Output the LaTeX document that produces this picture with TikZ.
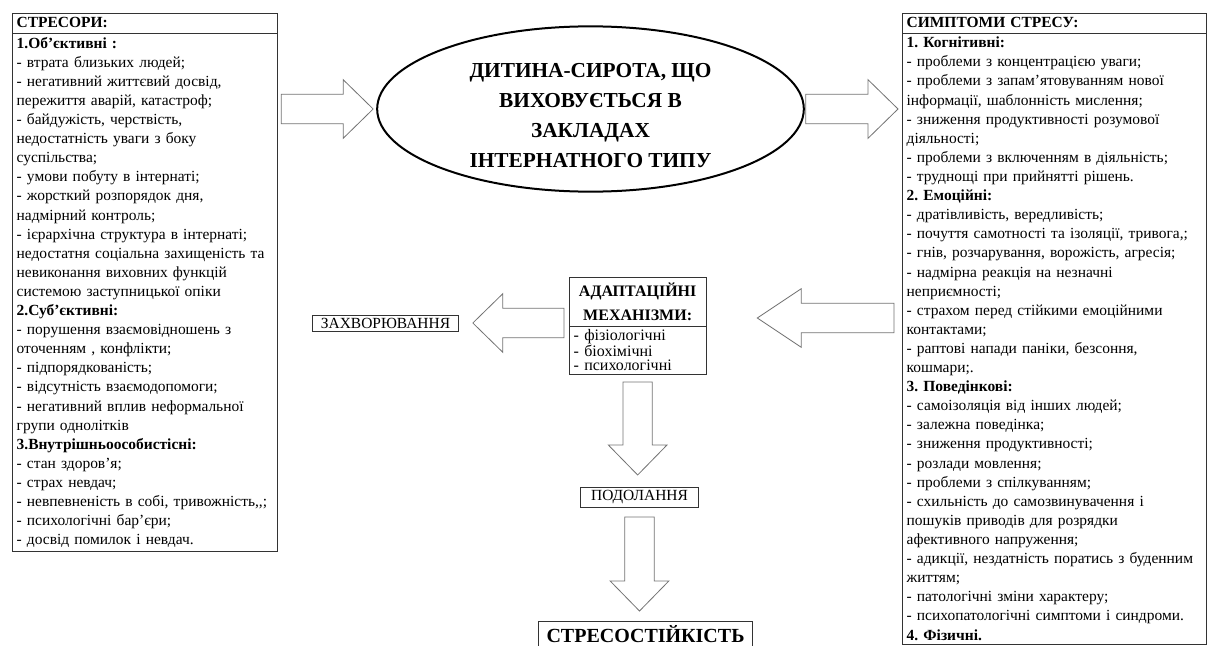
\documentclass[tikz,border=0pt]{standalone}
\usepackage{fontspec}
\setmainfont{Liberation Serif}
\usetikzlibrary{positioning,calc,shapes.geometric}

\frenchspacing
\newcommand{\txt}{\fontsize{11.6pt}{14.33pt}\selectfont}
% hollow block arrow from #2 to #3, #1 = head length
\newcommand{\fatarrow}[3][22.5pt]{%
  \draw[blk] let \p1=(#2), \p2=(#3), \n1={atan2(\y2-\y1,\x2-\x1)},
      \n2={veclen(\x2-\x1,\y2-\y1)} in [shift={(\p1)}, rotate=\n1]
    (0pt,-11pt) -- ({\n2-#1},-11pt) -- ({\n2-#1},-22pt) -- (\n2,0pt)
    -- ({\n2-#1},22pt) -- ({\n2-#1},11pt) -- (0pt,11pt) -- cycle;}

\begin{document}
\begin{tikzpicture}[x=0.75pt, y=-0.75pt,
  every node/.style={outer sep=0pt},
  hdr/.style={draw=black!80, line width=0.7pt, anchor=north west, align=left,
              inner xsep=3.5pt, inner ysep=0pt, minimum height=15pt,
              text height=8.5pt, text depth=2.5pt, font=\txt\bfseries},
  lst/.style={draw=black!80, line width=0.7pt, align=left, inner xsep=3.5pt,
              inner ysep=3pt, font=\txt},
  tag/.style={draw=black!80, line width=0.7pt, inner sep=0.5pt, font=\txt},
  blk/.style={draw=black!55, line width=0.6pt, fill=white}]
\useasboundingbox (0,0) rectangle (1208,646);

% stressors column
\node[hdr, text width=192pt] (stressH) at (12,13) {СТРЕСОРИ:};
\node[lst, text width=192pt, below=0pt of stressH] (stress) {%
\textbf{1.Об’єктивні :}\\
- втрата близьких людей;\\
- негативний життєвий досвід,\\
пережиття аварій, катастроф;\\
- байдужість, черствість,\\
недостатність уваги з боку\\
суспільства;\\
- умови побуту в інтернаті;\\
- жорсткий розпорядок дня,\\
надмірний контроль;\\
- ієрархічна структура в інтернаті;\\
недостатня соціальна захищеність та\\
невиконання виховних функцій\\
системою заступницької опіки\\
\textbf{2.Суб’єктивні:}\\
- порушення взаємовідношень з\\
оточенням , конфлікти;\\
- підпорядкованість;\\
- відсутність взаємодопомоги;\\
- негативний вплив неформальної\\
групи однолітків\\
\textbf{3.Внутрішньоособистісні:}\\
- стан здоров’я;\\
- страх невдач;\\
- невпевненість в собі, тривожність,{},;\\
- психологічні бар’єри;\\
- досвід помилок і невдач.};

% centre
\node[draw, ellipse, line width=1.5pt, minimum width=320pt, minimum height=119pt,
      inner sep=0pt, align=center, font=\fontsize{16pt}{22.5pt}\selectfont\bfseries]
  (kid) at (590.5,109)
  {\rule{0pt}{20pt}ДИТИНА-СИРОТА, ЩО\\ ВИХОВУЄТЬСЯ В\\ ЗАКЛАДАХ\\ ІНТЕРНАТНОГО ТИПУ};

% symptoms column
\node[hdr, text width=221pt] (sympH) at (902,13) {СИМПТОМИ СТРЕСУ:};
\node[lst, text width=221pt, below=0pt of sympH] (symp) {%
\textbf{1. Когнітивні:}\\
- проблеми з концентрацією уваги;\\
- проблеми з запам’ятовуванням нової\\
інформації, шаблонність мислення;\\
- зниження продуктивності розумової\\
діяльності;\\
- проблеми з включенням в діяльність;\\
- труднощі при прийнятті рішень.\\
\textbf{2. Емоційні:}\\
- дратівливість, вередливість;\\
- почуття самотності та ізоляції, тривога,;\\
- гнів, розчарування, ворожість, агресія;\\
- надмірна реакція на незначні\\
неприємності;\\
- страхом перед стійкими емоційними\\
контактами;\\
- раптові напади паніки, безсоння,\\
кошмари;.\\
\textbf{3. Поведінкові:}\\
- самоізоляція від інших людей;\\
- залежна поведінка;\\
- зниження продуктивності;\\
- розлади мовлення;\\
- проблеми з спілкуванням;\\
- схильність до самозвинувачення і\\
пошуків приводів для розрядки\\
афективного напруження;\\
- адикції, нездатність поратись з буденним\\
життям;\\
- патологічні зміни характеру;\\
- психопатологічні симптоми і синдроми.\\
\textbf{4. Фізичні.}};

% adaptation and outcomes
\node[hdr, text width=96pt, align=center, inner xsep=3.5pt, minimum height=36.75pt,
      text height=, text depth=, font=\fontsize{12pt}{18pt}\selectfont\bfseries]
  (adaptH) at (569,277) {АДАПТАЦІЙНІ\\ МЕХАНІЗМИ:};
\node[lst, text width=96pt, inner xsep=3.5pt, inner ysep=2pt, minimum height=36pt,
      font=\fontsize{12pt}{10.8pt}\selectfont, below=0pt of adaptH]
  (adapt) {- фізіологічні\\ - біохімічні\\ - психологічні};
\node[tag, minimum width=110pt, minimum height=12pt] (ill) at (385.5,323) {ЗАХВОРЮВАННЯ};
\node[tag, minimum width=89pt, minimum height=15pt] (cope) at (639.5,497) {ПОДОЛАННЯ};
\node[tag, minimum width=161pt, minimum height=19pt, anchor=north,
      font=\fontsize{15pt}{18pt}\selectfont\bfseries] (resil) at (645.5,621) {СТРЕСОСТІЙКІСТЬ};

% block arrows
\fatarrow{$(stress.east|-kid.west)+(4,0)$}{$(kid.west)+(-4,0)$}
\fatarrow{$(kid.east)+(2,0)$}{$(symp.west|-kid.east)+(-4,0)$}
\fatarrow[33pt]{$(symp.west|-adapt.north)+(-8,-8)$}{$(adapt.north east)+(51,-8)$}
\fatarrow{$(adapt.west|-ill.east)+(-5,0)$}{$(ill.east)+(14,0)$}
\fatarrow{$(adapt.south)+(0,8)$}{$(adapt.south|-cope.north)+(0,-12)$}
\fatarrow{$(cope.south)+(0,10)$}{$(cope.south|-resil.north)+(0,-10)$}
\end{tikzpicture}
\end{document}
